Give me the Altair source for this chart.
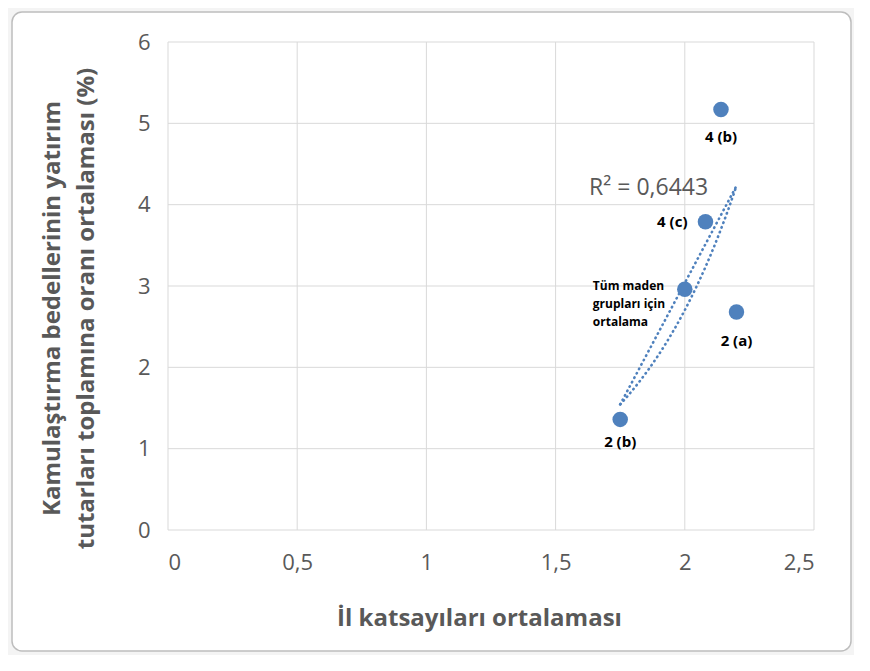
import altair as alt
import numpy as np
import pandas as pd

# ---- data ----
labels = ["4 (b)", "4 (c)", "Tüm maden\ngrupları için\nortalama", "2 (a)", "2 (b)"]
x_vals = [2.14, 2.08, 2.00, 2.20, 1.75]
y_vals = [5.17, 3.79, 2.96, 2.68, 1.36]
x_ticks = [0, 0.5, 1, 1.5, 2, 2.5]
y_ticks = [0, 1, 2, 3, 4, 5, 6]
r2_text = "R² = 0,6443"
x_title = "İl katsayıları ortalaması"
y_title = ["Kamulaştırma bedellerinin yatırım", "tutarları toplamına oranı ortalaması (%)"]

df = pd.DataFrame({"label": labels, "x": x_vals, "y": y_vals})
xt = pd.DataFrame({"v": x_ticks})
yt = pd.DataFrame({"v": y_ticks})

# Excel-style exponential trendline (least squares on ln y), drawn as a closed
# path: the curve forward and its chord back, as in the reference
b, a = np.polyfit(np.array(x_vals), np.log(np.array(y_vals)), 1)
fx = np.linspace(min(x_vals), max(x_vals), 60)
curve = pd.DataFrame({"x": fx, "y": np.exp(a + b * fx)})
chord = curve.iloc[[0, -1]].reset_index(drop=True)

W, H = 646, 488
FONT = "Open Sans"
GREY = "#595959"
BLUE = "#4f81bd"
GRID = "#d9d9d9"
LABEL_EXPR = "replace(toString(datum.value), '.', ',')"

xs = alt.Scale(domain=[0, 2.5], nice=False, zero=False)
ys = alt.Scale(domain=[0, 6], nice=False, zero=False)

frame = alt.Chart(pd.DataFrame({"a": [0]})).mark_rect(
    fill="white", stroke="#bdbdbd", strokeWidth=1.5, cornerRadius=10
).encode(x=alt.value(-156), x2=alt.value(683), y=alt.value(-30), y2=alt.value(609))

vgrid = alt.Chart(xt).mark_rule(color=GRID, strokeWidth=1).encode(
    x=alt.X("v:Q", scale=xs), y=alt.value(0), y2=alt.value(H)
)
hgrid = alt.Chart(yt).mark_rule(color=GRID, strokeWidth=1).encode(
    y=alt.Y("v:Q", scale=ys), x=alt.value(0), x2=alt.value(W)
)

dot_style = dict(color=BLUE, strokeWidth=2.6, strokeDash=[0.5, 4.5], strokeCap="round")
trend_curve = alt.Chart(curve).mark_line(**dot_style).encode(
    x=alt.X("x:Q", scale=xs), y=alt.Y("y:Q", scale=ys)
)
trend_chord = alt.Chart(chord).mark_line(**dot_style).encode(
    x=alt.X("x:Q", scale=xs), y=alt.Y("y:Q", scale=ys)
)

base = alt.Chart(df)
points = base.mark_circle(size=240, color=BLUE, opacity=1).encode(
    x=alt.X("x:Q", scale=xs, title=x_title,
            axis=alt.Axis(values=x_ticks, grid=False, domain=False, ticks=False,
                          labelExpr=LABEL_EXPR,
                          labelFont=FONT, labelFontSize=22, labelColor=GREY, labelPadding=22,
                          titleFont=FONT, titleFontSize=24, titleFontWeight="bold", titleColor=GREY,
                          titleAlign="center", titleBaseline="middle", titleX=311, titleY=88,
                          zindex=1)),
    y=alt.Y("y:Q", scale=ys, title=y_title,
            axis=alt.Axis(values=y_ticks, grid=False, domain=False, ticks=False,
                          labelExpr=LABEL_EXPR,
                          labelFont=FONT, labelFontSize=22, labelColor=GREY, labelPadding=18,
                          titleFont=FONT, titleFontSize=24, titleFontWeight="bold", titleColor=GREY,
                          titleAngle=-90, titleAlign="center", titleBaseline="middle",
                          titleX=-116, titleY=266, titleLineHeight=34, zindex=1)),
)

def lab(name, **kw):
    return base.transform_filter(alt.datum.label == name).mark_text(
        font=FONT, fontWeight="bold", color="black", **kw
    ).encode(x=alt.X("x:Q", scale=xs), y=alt.Y("y:Q", scale=ys), text="label:N")

l_4b = lab("4 (b)", fontSize=15, dy=27, baseline="middle")
l_4c = lab("4 (c)", fontSize=15, dx=-18, align="right", baseline="middle")
l_2a = lab("2 (a)", fontSize=15, dy=29, baseline="middle")
l_2b = lab("2 (b)", fontSize=15, dy=23, baseline="middle")
l_all = lab(labels[2], fontSize=12, dx=-92, dy=-3, align="left", baseline="middle",
            lineBreak="\n", lineHeight=18)

r2 = alt.Chart(pd.DataFrame({"t": [r2_text]})).mark_text(
    font=FONT, fontSize=23, color=GREY, align="center", baseline="middle"
).encode(x=alt.datum(1.86, scale=xs), y=alt.datum(4.21, scale=ys), text="t:N")

chart = alt.layer(
    frame, vgrid, hgrid, trend_chord, trend_curve, points,
    l_4b, l_4c, l_2a, l_2b, l_all, r2
).properties(
    width=W, height=H,
    padding={"left": 160, "top": 34, "right": 40, "bottom": 125},
    autosize=alt.AutoSizeParams(type="none"),
    background="#f4f4f4",
).configure_view(strokeWidth=0)

chart.save("out.html", embed_options={"renderer": "svg", "actions": False})
